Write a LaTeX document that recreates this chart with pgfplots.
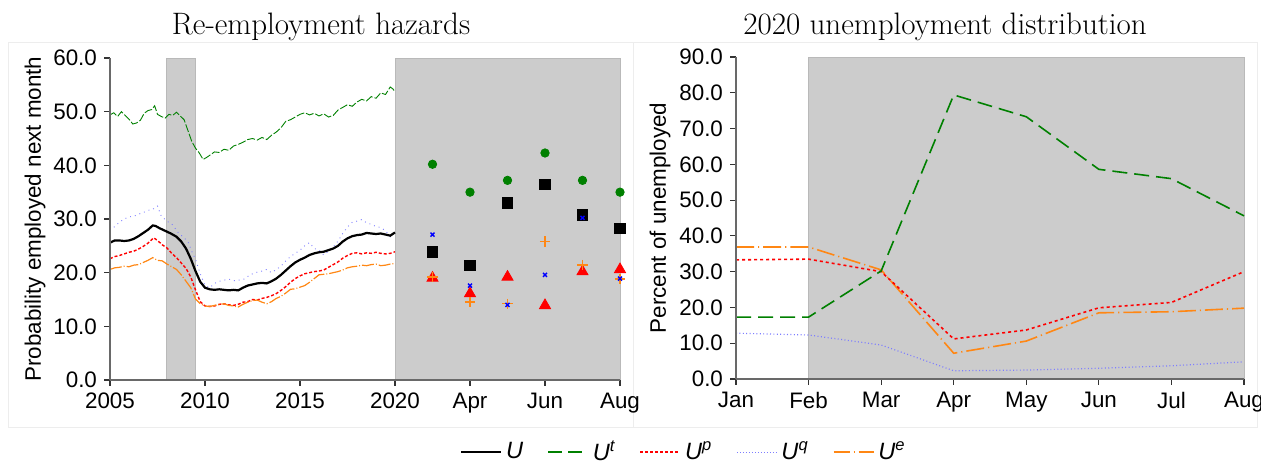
\documentclass[border=0pt]{standalone}
\usepackage{fontspec}
\setsansfont{Liberation Sans}
\usepackage{pgfplots}
\pgfplotsset{compat=1.18}

\definecolor{cgreen}{RGB}{0,128,0}
\definecolor{cred}{RGB}{255,0,0}
\definecolor{cblue}{RGB}{125,125,255}
\definecolor{corange}{RGB}{255,135,20}
\definecolor{shade}{RGB}{204,204,204}
\definecolor{shadeedge}{RGB}{185,185,185}
\definecolor{axgray}{RGB}{105,105,105}

\pgfplotsset{
  panel/.style={
    scale only axis, width=255pt, height=161pt,
    axis lines=left, axis line style={-, axgray, line width=0.8pt},
    axis on top,
    enlargelimits=false,
    tick align=outside, major tick length=3pt,
    tick style={black!80, line width=0.6pt},
    ticklabel style={font=\fontsize{11.2}{13}\selectfont\sffamily},
    /pgf/number format/assume math mode=true,
    yticklabel style={/pgf/number format/fixed, /pgf/number format/fixed zerofill, /pgf/number format/precision=1},
    clip=false, anchor=south west,
  }
}

\begin{document}
\begin{tikzpicture}
\path[use as bounding box] (-55pt,-42pt) rectangle (575.5pt,190pt);
\draw[black!7, line width=0.5pt] (-50.5pt,-24pt) rectangle (261.5pt,168.5pt);
\draw[black!7, line width=0.5pt] (261.5pt,-24pt) rectangle (573.5pt,168.5pt);
\node[font=\fontsize{15.5}{18}\selectfont, anchor=base] at (105.5pt,172.5pt) {Re-employment hazards};
\node[font=\fontsize{15.5}{18}\selectfont, anchor=base] at (417.5pt,172.5pt) {2020 unemployment distribution};

% ---------------- Left panel ----------------
\begin{axis}[panel, at={(0pt,0pt)},
  xmin=2005, xmax=2031.842, ymin=0, ymax=60,
  xtick={2005,2010,2015,2020,2023.947,2027.895,2031.842},
  xticklabels={2005,2010,2015,2020,Apr,Jun,Aug},
  ytick={0,10,20,30,40,50,60},
  ylabel={Probability employed next month},
  every axis y label/.style={at={(axis description cs:-0.147,0.5)}, rotate=90, anchor=center, font=\fontsize{11.2}{13}\selectfont\sffamily},
  legend style={at={(axis description cs:1.127,-0.224)}, anchor=center, draw=none, fill=none,
    legend columns=5, font=\fontsize{11.8}{13}\selectfont\sffamily\itshape,
    /tikz/every even column/.append style={column sep=10pt}},
  legend image code/.code={\draw[#1] (0pt,0pt) -- (20pt,0pt);},
]
\addplot[fill=shade, draw=shadeedge, forget plot] coordinates {(2007.95,0) (2007.95,60) (2009.47,60) (2009.47,0)} -- cycle;
\addplot[fill=shade, draw=shadeedge, forget plot] coordinates {(2020,0) (2020,60) (2031.842,60) (2031.842,0)} -- cycle;

% U^t
\addplot[cgreen, line width=0.45pt, dash pattern=on 4pt off 1pt, forget plot] coordinates {
(2005.0,49.4) (2005.2,49.8) (2005.4,49.1) (2005.6,50.0) (2005.8,49.3) (2006.0,48.6) (2006.2,47.7) (2006.4,47.9) (2006.6,48.4) (2006.8,49.7) (2007.0,50.2) (2007.2,50.4) (2007.35,51.1) (2007.5,49.5) (2007.7,49.1) (2007.9,48.8) (2008.1,49.5) (2008.3,49.3) (2008.5,49.9) (2008.7,49.2) (2008.9,48.5) (2009.1,46.5) (2009.3,44.5) (2009.5,43.2) (2009.7,42.3) (2009.9,41.1) (2010.1,41.5) (2010.3,42.0) (2010.5,42.5) (2010.75,42.4) (2011.0,43.0) (2011.25,42.8) (2011.5,43.6) (2011.75,43.9) (2012.0,44.3) (2012.25,44.8) (2012.5,45.0) (2012.75,44.7) (2013.0,45.2) (2013.25,44.8) (2013.5,45.6) (2013.75,46.2) (2014.0,47.0) (2014.25,48.2) (2014.5,48.5) (2014.75,49.0) (2015.0,49.5) (2015.25,49.8) (2015.5,49.4) (2015.75,49.7) (2016.0,49.2) (2016.25,49.6) (2016.5,49.0) (2016.75,49.3) (2017.0,50.3) (2017.25,50.8) (2017.5,51.3) (2017.75,51.0) (2018.0,51.8) (2018.25,52.3) (2018.5,52.0) (2018.75,52.8) (2019.0,52.5) (2019.25,53.5) (2019.5,53.2) (2019.75,54.6) (2019.9,54.2) (2020.0,53.7)};
% U^q
\addplot[cblue, line width=0.45pt, dotted, forget plot] coordinates {
(2005.0,27.9) (2005.25,28.6) (2005.5,29.4) (2005.75,30.0) (2006.0,30.4) (2006.25,30.5) (2006.5,30.9) (2006.75,31.2) (2007.0,31.6) (2007.25,31.8) (2007.5,32.4) (2007.7,30.5) (2008.0,29.6) (2008.3,28.9) (2008.6,27.4) (2008.9,26.5) (2009.1,25.8) (2009.3,24.0) (2009.5,22.5) (2009.75,19.8) (2010.0,17.6) (2010.25,17.2) (2010.5,18.0) (2010.75,18.4) (2011.0,18.6) (2011.25,18.8) (2011.5,18.5) (2011.75,18.6) (2012.0,18.7) (2012.25,19.3) (2012.5,19.8) (2012.75,20.1) (2013.0,20.3) (2013.25,20.6) (2013.5,20.0) (2013.75,20.6) (2014.0,21.2) (2014.25,22.2) (2014.5,23.0) (2014.75,23.6) (2015.0,24.2) (2015.25,25.0) (2015.5,25.6) (2015.75,24.5) (2016.0,24.2) (2016.25,23.3) (2016.5,24.0) (2016.75,24.8) (2017.0,25.9) (2017.25,27.3) (2017.5,28.5) (2017.75,29.4) (2018.0,29.6) (2018.25,29.9) (2018.5,29.3) (2018.75,29.0) (2019.0,28.6) (2019.25,28.4) (2019.5,27.8) (2019.75,26.7) (2020.0,27.6)};
% U^p
\addplot[cred, line width=0.7pt, dash pattern=on 1.5pt off 1pt, forget plot] coordinates {
(2005.0,22.6) (2005.25,23.0) (2005.5,23.2) (2005.75,23.5) (2006.0,23.8) (2006.25,24.0) (2006.5,24.4) (2006.75,24.9) (2007.0,25.5) (2007.3,26.5) (2007.5,26.0) (2007.75,25.2) (2008.0,24.6) (2008.25,23.6) (2008.5,22.8) (2008.75,21.8) (2009.0,20.8) (2009.25,19.2) (2009.5,16.8) (2009.75,14.6) (2010.0,13.8) (2010.25,13.7) (2010.5,13.8) (2010.75,14.1) (2011.0,14.2) (2011.25,14.0) (2011.5,13.9) (2011.75,14.1) (2012.0,14.5) (2012.25,14.6) (2012.5,15.0) (2012.75,14.9) (2013.0,15.2) (2013.25,15.4) (2013.5,15.7) (2013.75,16.1) (2014.0,16.7) (2014.25,17.4) (2014.5,18.2) (2014.75,18.9) (2015.0,19.4) (2015.25,19.8) (2015.5,20.0) (2015.75,20.2) (2016.0,20.3) (2016.25,20.5) (2016.5,21.0) (2016.75,21.5) (2017.0,22.0) (2017.25,22.7) (2017.5,23.2) (2017.75,23.6) (2018.0,23.7) (2018.25,23.5) (2018.5,23.7) (2018.75,23.6) (2019.0,23.8) (2019.25,23.6) (2019.5,23.5) (2019.75,23.6) (2020.0,23.9)};
% U^e
\addplot[corange, line width=0.6pt, dash pattern=on 6pt off 1pt on 0.5pt off 1pt, forget plot] coordinates {
(2005.0,20.6) (2005.25,20.9) (2005.5,21.0) (2005.75,21.2) (2006.0,21.1) (2006.25,21.4) (2006.5,21.5) (2006.75,21.9) (2007.0,22.3) (2007.25,22.8) (2007.5,22.3) (2007.75,22.2) (2008.0,21.6) (2008.25,21.1) (2008.5,20.6) (2008.75,19.6) (2009.0,18.4) (2009.25,17.2) (2009.5,15.1) (2009.75,14.2) (2010.0,13.8) (2010.25,13.7) (2010.5,13.9) (2010.75,14.1) (2011.0,14.2) (2011.25,13.9) (2011.5,13.8) (2011.75,13.6) (2012.0,14.1) (2012.25,14.5) (2012.5,14.8) (2012.75,14.9) (2013.0,14.5) (2013.25,14.2) (2013.5,14.6) (2013.75,15.2) (2014.0,15.6) (2014.25,16.2) (2014.5,16.9) (2014.75,17.0) (2015.0,17.3) (2015.25,17.6) (2015.5,18.2) (2015.75,18.9) (2016.0,19.6) (2016.25,19.7) (2016.5,19.8) (2016.75,20.0) (2017.0,20.2) (2017.25,20.5) (2017.5,20.9) (2017.75,21.1) (2018.0,21.2) (2018.25,21.4) (2018.5,21.3) (2018.75,21.5) (2019.0,21.6) (2019.25,21.3) (2019.5,21.4) (2019.75,21.6) (2020.0,21.7)};
% U
\addplot[black, line width=1.1pt, forget plot] coordinates {
(2005.0,25.6) (2005.25,26.0) (2005.5,26.0) (2005.75,25.9) (2006.0,26.0) (2006.25,26.3) (2006.5,26.8) (2006.75,27.4) (2007.0,28.0) (2007.25,28.8) (2007.4,28.7) (2007.6,28.3) (2007.9,27.8) (2008.2,27.3) (2008.5,26.7) (2008.75,25.8) (2009.0,24.5) (2009.25,22.6) (2009.5,20.3) (2009.75,18.3) (2010.0,17.2) (2010.25,16.9) (2010.5,16.8) (2010.75,16.9) (2011.0,16.8) (2011.25,16.7) (2011.5,16.8) (2011.75,16.7) (2012.0,17.2) (2012.25,17.6) (2012.5,17.8) (2012.75,18.0) (2013.0,18.1) (2013.25,18.0) (2013.5,18.4) (2013.75,18.9) (2014.0,19.6) (2014.25,20.4) (2014.5,21.2) (2014.75,21.9) (2015.0,22.4) (2015.25,22.8) (2015.5,23.3) (2015.75,23.6) (2016.0,23.8) (2016.25,23.9) (2016.5,24.2) (2016.75,24.5) (2017.0,25.0) (2017.25,25.8) (2017.5,26.4) (2017.75,26.8) (2018.0,27.0) (2018.25,27.1) (2018.5,27.4) (2018.75,27.3) (2019.0,27.2) (2019.25,27.3) (2019.5,27.1) (2019.75,26.9) (2020.0,27.5)};

% 2020 monthly points (Mar..Aug)
\addplot[only marks, mark=*, mark size=2.1pt, cgreen, forget plot] coordinates {
(2021.974,40.2) (2023.947,35.0) (2025.921,37.2) (2027.895,42.3) (2029.868,37.2) (2031.842,35.0)};
\addplot[only marks, mark=square*, mark size=2.6pt, black, forget plot] coordinates {
(2021.974,23.9) (2023.947,21.4) (2025.921,33.0) (2027.895,36.4) (2029.868,30.8) (2031.842,28.3)};
\addplot[only marks, mark=triangle*, mark size=3.2pt, cred, forget plot] coordinates {
(2021.974,19.0) (2023.947,16.1) (2025.921,19.2) (2027.895,13.9) (2029.868,20.2) (2031.842,20.6)};
\addplot[only marks, mark=+, mark size=2.6pt, corange, line width=0.7pt, forget plot] coordinates {
(2021.974,19.2) (2023.947,14.5) (2025.921,14.2) (2027.895,25.8) (2029.868,21.4) (2031.842,18.8)};
\addplot[only marks, mark=x, mark size=1.4pt, blue, line width=0.7pt, forget plot] coordinates {
(2021.974,27.1) (2023.947,17.6) (2025.921,14.0) (2027.895,19.6) (2029.868,30.2) (2031.842,18.9)};

\addlegendimage{black, line width=1.1pt}
\addlegendentry{U}
\addlegendimage{cgreen, line width=0.8pt, dash pattern=on 7pt off 3pt}
\addlegendentry{U\textsuperscript{t}}
\addlegendimage{cred, line width=0.8pt, dash pattern=on 1.5pt off 1pt}
\addlegendentry{U\textsuperscript{p}}
\addlegendimage{cblue, line width=0.6pt, dash pattern=on 0.5pt off 1pt}
\addlegendentry{U\textsuperscript{q}}
\addlegendimage{corange, line width=0.8pt, dash pattern=on 8pt off 2pt on 0.5pt off 2pt}
\addlegendentry{U\textsuperscript{e}}
\end{axis}

% ---------------- Right panel ----------------
\begin{axis}[panel, at={(313pt,0.5pt)}, width=254pt,
  xmin=1, xmax=8, ymin=0, ymax=90,
  xtick={1,2,3,4,5,6,7,8},
  xticklabels={Jan,Feb,Mar,Apr,May,Jun,Jul,Aug},
  ytick={0,10,20,30,40,50,60,70,80,90},
  ylabel={Percent of unemployed},
  every axis y label/.style={at={(axis description cs:-0.1496,0.5)}, rotate=90, anchor=center, font=\fontsize{11.2}{13}\selectfont\sffamily},
]
\addplot[fill=shade, draw=shadeedge] coordinates {(2,0) (2,90) (8,90) (8,0)} -- cycle;
\addplot[cblue, line width=0.6pt, dash pattern=on 0.5pt off 1.2pt] coordinates {
(1,12.8) (2,12.3) (3,9.5) (4,2.3) (5,2.5) (6,3.0) (7,3.7) (8,4.8)};
\addplot[corange, line width=0.8pt, dash pattern=on 9pt off 2pt on 0.6pt off 2pt] coordinates {
(1,36.9) (2,36.9) (3,30.5) (4,7.2) (5,10.6) (6,18.5) (7,18.8) (8,19.8)};
\addplot[cred, line width=0.8pt, dash pattern=on 1.5pt off 1.5pt] coordinates {
(1,33.3) (2,33.5) (3,30.0) (4,11.2) (5,13.7) (6,19.9) (7,21.4) (8,30.0)};
\addplot[cgreen, line width=0.8pt, dash pattern=on 7.5pt off 3.5pt] coordinates {
(1,17.3) (2,17.3) (3,30.2) (4,79.4) (5,73.3) (6,58.6) (7,56.0) (8,45.6)};
\end{axis}
\end{tikzpicture}
\end{document}
